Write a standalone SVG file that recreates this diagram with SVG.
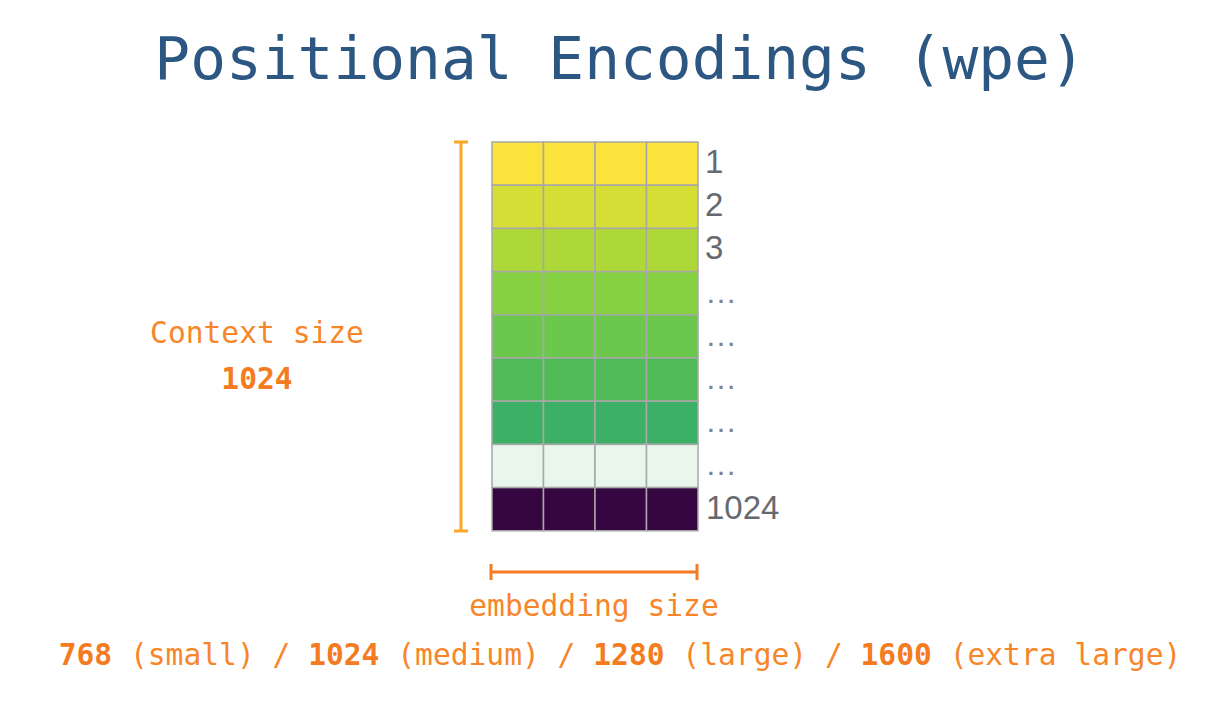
<svg xmlns="http://www.w3.org/2000/svg" width="1210" height="712" viewBox="0 0 1210 712">
<style>
.mono{font-family:"DejaVu Sans Mono",monospace}
.title{font-size:59.5px;fill:#2c5782}
.or{font-size:29.6px;fill:#f7862a}
.b{font-weight:bold;fill:#f47b20}
.num{font-family:"Liberation Sans",Arial,sans-serif;font-size:33px;fill:#666a70}
.dots{font-family:"Liberation Sans",Arial,sans-serif;font-size:32px;fill:#80848a}
.cell{stroke:#a8a8a8;stroke-width:1.5}
</style>
<rect width="1210" height="712" fill="#ffffff"/>
<text class="mono title" x="620" y="79" text-anchor="middle">Positional Encodings (wpe)</text>
<g id="matrix">
<g id="row1" fill="#fce33b"><rect class="cell" x="492" y="142" width="51.5" height="43.2"/><rect class="cell" x="543.5" y="142" width="51.5" height="43.2"/><rect class="cell" x="595" y="142" width="51.5" height="43.2"/><rect class="cell" x="646.5" y="142" width="51.5" height="43.2"/></g>
<g id="row2" fill="#d4de34"><rect class="cell" x="492" y="185.2" width="51.5" height="43.2"/><rect class="cell" x="543.5" y="185.2" width="51.5" height="43.2"/><rect class="cell" x="595" y="185.2" width="51.5" height="43.2"/><rect class="cell" x="646.5" y="185.2" width="51.5" height="43.2"/></g>
<g id="row3" fill="#aed838"><rect class="cell" x="492" y="228.4" width="51.5" height="43.2"/><rect class="cell" x="543.5" y="228.4" width="51.5" height="43.2"/><rect class="cell" x="595" y="228.4" width="51.5" height="43.2"/><rect class="cell" x="646.5" y="228.4" width="51.5" height="43.2"/></g>
<g id="row4" fill="#86d141"><rect class="cell" x="492" y="271.6" width="51.5" height="43.2"/><rect class="cell" x="543.5" y="271.6" width="51.5" height="43.2"/><rect class="cell" x="595" y="271.6" width="51.5" height="43.2"/><rect class="cell" x="646.5" y="271.6" width="51.5" height="43.2"/></g>
<g id="row5" fill="#6cc84d"><rect class="cell" x="492" y="314.8" width="51.5" height="43.2"/><rect class="cell" x="543.5" y="314.8" width="51.5" height="43.2"/><rect class="cell" x="595" y="314.8" width="51.5" height="43.2"/><rect class="cell" x="646.5" y="314.8" width="51.5" height="43.2"/></g>
<g id="row6" fill="#50bc58"><rect class="cell" x="492" y="358" width="51.5" height="43.2"/><rect class="cell" x="543.5" y="358" width="51.5" height="43.2"/><rect class="cell" x="595" y="358" width="51.5" height="43.2"/><rect class="cell" x="646.5" y="358" width="51.5" height="43.2"/></g>
<g id="row7" fill="#3cb064"><rect class="cell" x="492" y="401.2" width="51.5" height="43.2"/><rect class="cell" x="543.5" y="401.2" width="51.5" height="43.2"/><rect class="cell" x="595" y="401.2" width="51.5" height="43.2"/><rect class="cell" x="646.5" y="401.2" width="51.5" height="43.2"/></g>
<g id="row8" fill="#e9f6ec"><rect class="cell" x="492" y="444.4" width="51.5" height="43.2"/><rect class="cell" x="543.5" y="444.4" width="51.5" height="43.2"/><rect class="cell" x="595" y="444.4" width="51.5" height="43.2"/><rect class="cell" x="646.5" y="444.4" width="51.5" height="43.2"/></g>
<g id="row9" fill="#35063f"><rect class="cell" x="492" y="487.6" width="51.5" height="43.2"/><rect class="cell" x="543.5" y="487.6" width="51.5" height="43.2"/><rect class="cell" x="595" y="487.6" width="51.5" height="43.2"/><rect class="cell" x="646.5" y="487.6" width="51.5" height="43.2"/></g>
</g>
<g id="labels">
<text class="num" x="705" y="173">1</text>
<text class="num" x="705" y="216">2</text>
<text class="num" x="705" y="259">3</text>
<text class="dots" x="705" y="303">…</text>
<text class="dots" x="705" y="346">…</text>
<text class="dots" x="705" y="389">…</text>
<text class="dots" x="705" y="432">…</text>
<text class="dots" x="705" y="475">…</text>
<text class="num" x="706" y="519">1024</text>
</g>
<g id="connectors" fill="none" stroke-width="3">
<g id="context-bracket" stroke="#fba72a"><line x1="461" y1="142" x2="461" y2="531"/><line x1="454" y1="142" x2="468" y2="142"/><line x1="454" y1="531" x2="468" y2="531"/></g>
<g id="embed-bracket" stroke="#f47b20"><line x1="491" y1="572" x2="697" y2="572"/><line x1="491" y1="564" x2="491" y2="580"/><line x1="697" y1="564" x2="697" y2="580"/></g>
</g>
<g id="context-label">
<text class="mono or" x="257" y="343" text-anchor="middle">Context size</text>
<text class="mono or b" x="257" y="389" text-anchor="middle">1024</text>
</g>
<g id="embed-label">
<text class="mono or" x="594" y="616" text-anchor="middle">embedding size</text>
<text class="mono or" x="620" y="665" text-anchor="middle"><tspan class="b">768</tspan> (small) / <tspan class="b">1024</tspan> (medium) / <tspan class="b">1280</tspan> (large) / <tspan class="b">1600</tspan> (extra large)</text>
</g>
</svg>
